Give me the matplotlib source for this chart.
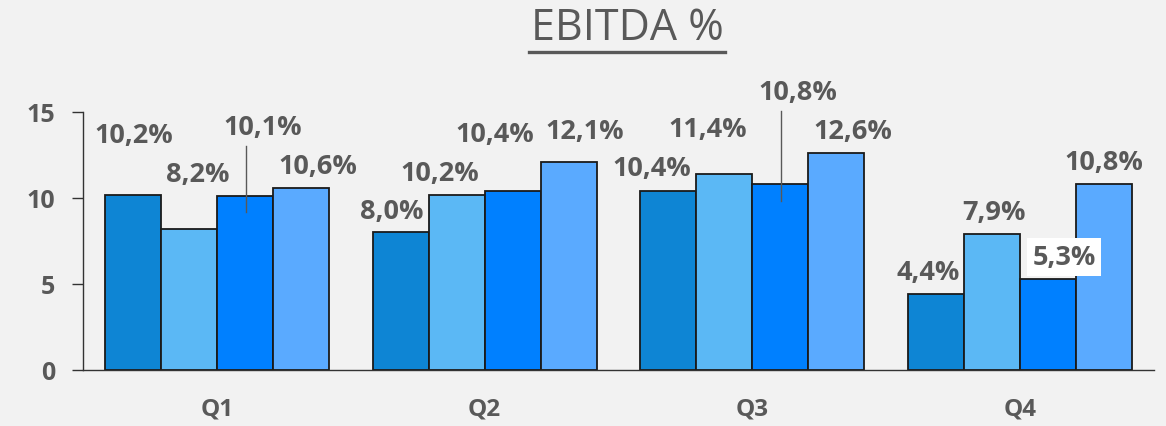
import matplotlib
matplotlib.use("Agg")
import matplotlib.pyplot as plt
import numpy as np

# ---- data ----
quarters = ["Q1", "Q2", "Q3", "Q4"]
series_a = [10.2, 8.0, 10.4, 4.4]
series_b = [8.2, 10.2, 11.4, 7.9]
series_c = [10.1, 10.4, 10.8, 5.3]
series_d = [10.6, 12.1, 12.6, 10.8]
yticks = [0, 5, 10, 15]

colors = ["#0E85D4", "#5BB8F5", "#0080FF", "#5AAAFF"]
# label placement (manual Excel-style positions): dx from bar centre, y in data units
label_dx = [
    [0.004, 0.034, 0.0675, 0.0645],
    [-0.0325, -0.0625, -0.0675, 0.0615],
    [-0.0615, -0.0615, 0.0655, 0.0625],
    [-0.0305, 0.0065, 0.0595, 0.0],
]
label_y = [
    [13.66, 11.40, 14.13, 11.86],
    [9.24, 11.45, 13.72, 13.90],
    [11.74, 14.01, 16.16, 13.90],
    [5.70, 9.19, 6.57, 12.09],
]
# leader lines: (quarter index, series index, y_top, y_bottom)
leaders = [(0, 2, 13.02, 9.19), (2, 2, 15.06, 9.83)]
white_box = [(3, 2)]

W, H = 1166, 427
fig = plt.figure(figsize=(W / 100, H / 100), dpi=100)
fig.patch.set_facecolor("#F2F2F2")
ax = fig.add_axes([83 / W, (H - 371) / H, (1154 - 83) / W, (371 - 113) / H])
ax.set_facecolor("#F2F2F2")

font = "Open Sans"
txt = "#595959"
series = [series_a, series_b, series_c, series_d]
x = np.arange(len(quarters))
bw = 0.209
offsets = [-1.5 * bw, -0.5 * bw, 0.5 * bw, 1.5 * bw]

for s, (vals, col, off) in enumerate(zip(series, colors, offsets)):
    ax.bar(x + off, vals, width=bw, color=col, edgecolor="#1a1a1a", linewidth=1.3, zorder=2)
    for q, v in enumerate(vals):
        lx = x[q] + off + label_dx[q][s]
        ly = label_y[q][s]
        kw = {}
        if (q, s) in white_box:
            kw["bbox"] = dict(facecolor="white", edgecolor="none", pad=4)
        ax.text(lx, ly, f"{v:.1f}%".replace(".", ","), ha="center", va="center",
                fontsize=19.5, fontweight="bold", color=txt, family=font,
                clip_on=False, zorder=4, **kw)

for q, s, y0, y1 in leaders:
    xx = x[q] + offsets[s] + 0.004
    ax.plot([xx, xx], [y0, y1], color="#595959", lw=1, zorder=3, clip_on=False)

ax.set_xlim(-0.5, 3.5)
ax.set_ylim(0, 15)
ax.set_yticks(yticks)
ax.set_yticklabels([str(t) for t in yticks], fontsize=18, fontweight="bold",
                   color=txt, family=font)
ax.set_xticks(x)
ax.set_xticklabels(quarters, fontsize=17.5, fontweight="bold", color=txt, family=font)
ax.tick_params(axis="x", length=0, pad=19)
ax.tick_params(axis="y", length=8, width=1, color="#333333", pad=12)
for sp in ["top", "right"]:
    ax.spines[sp].set_visible(False)
ax.spines["left"].set_color("#333333")
ax.spines["bottom"].set_color("#333333")
ax.spines["left"].set_linewidth(1)
ax.spines["bottom"].set_linewidth(1)

t = fig.text(627 / W, 1 - 29 / H, "EBITDA %", ha="center", va="center",
             fontsize=31, color=txt, family=font)
fig.canvas.draw()
bb = t.get_window_extent()
fig.add_artist(plt.Line2D([bb.x0 - 2, bb.x1 + 2], [H - 53, H - 53], transform=None,
                          color=txt, lw=2.4))

fig.savefig("out.png", dpi=100, facecolor=fig.get_facecolor())
